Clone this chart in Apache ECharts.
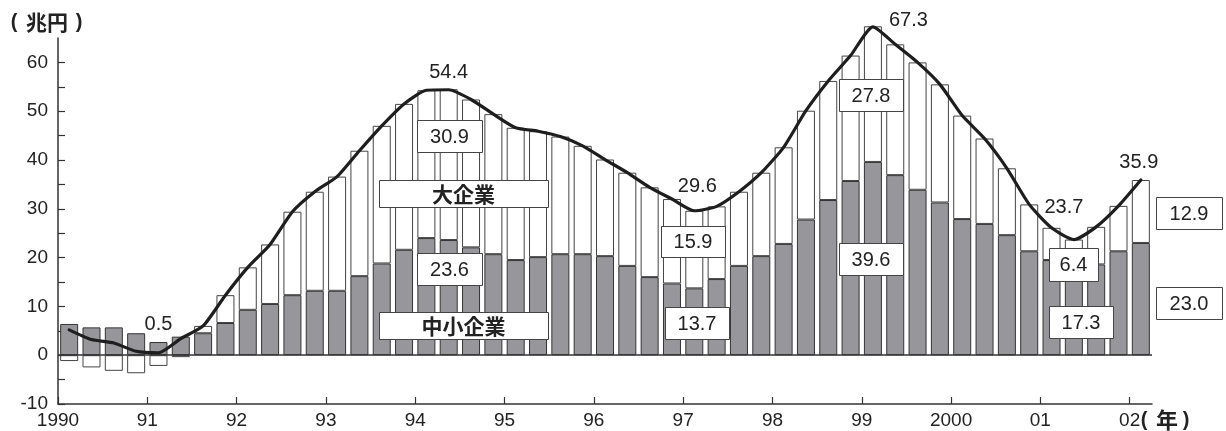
<!DOCTYPE html>
<html>
<head>
<meta charset="utf-8">
<title>経常利益の推移</title>
<script src="https://cdn.jsdelivr.net/npm/echarts@6/dist/echarts.min.js"></script>
<style>
  html, body { margin: 0; padding: 0; background: #fff; }
  #main { width: 1226px; height: 431px; }
</style>
</head>
<body>
<div id="main"></div>
<script>
// 四半期 1990年1-3月期 ～ 2002年1-3月期
var quarters = [
  "1990-1", "1990-2", "1990-3", "1990-4",
  "1991-1", "1991-2", "1991-3", "1991-4",
  "1992-1", "1992-2", "1992-3", "1992-4",
  "1993-1", "1993-2", "1993-3", "1993-4",
  "1994-1", "1994-2", "1994-3", "1994-4",
  "1995-1", "1995-2", "1995-3", "1995-4",
  "1996-1", "1996-2", "1996-3", "1996-4",
  "1997-1", "1997-2", "1997-3", "1997-4",
  "1998-1", "1998-2", "1998-3", "1998-4",
  "1999-1", "1999-2", "1999-3", "1999-4",
  "2000-1", "2000-2", "2000-3", "2000-4",
  "2001-1", "2001-2", "2001-3", "2001-4",
  "2002-1",
];

// 中小企業 (兆円)
var small = [
  6.4, 5.7, 5.7, 4.5,
  2.7, 3.8, 4.5, 6.6,
  9.3, 10.5, 12.3, 13.2,
  13.2, 16.2, 18.8, 21.6,
  24.0, 23.6, 22.1, 20.7,
  19.5, 20.1, 20.7, 20.7,
  20.3, 18.3, 16.0, 14.7,
  13.7, 15.6, 18.3, 20.3,
  22.8, 27.8, 31.8, 35.7,
  39.6, 36.9, 33.9, 31.3,
  27.9, 26.9, 24.6, 21.3,
  19.5, 17.3, 18.6, 21.3,
  23.0,
];

// 大企業 (兆円)
var large = [
  -1.2, -2.5, -3.2, -3.7,
  -2.2, -0.4, 1.5, 5.7,
  8.7, 12.2, 17.1, 20.3,
  23.4, 25.7, 28.2, 29.9,
  30.3, 30.9, 30.3, 28.7,
  27.1, 25.8, 24.1, 22.2,
  19.8, 19.1, 18.4, 17.3,
  15.9, 14.9, 15.2, 17.1,
  19.8, 22.3, 24.4, 25.7,
  27.8, 26.8, 26.1, 24.2,
  21.2, 17.5, 13.7, 9.6,
  6.6, 6.4, 7.7, 9.3,
  12.9,
];

// 合計 (折れ線)
var total = [
  5.2, 3.2, 2.5, 0.8,
  0.5, 3.4, 6.0, 12.3,
  18.0, 22.7, 29.4, 33.5,
  36.6, 41.9, 47.0, 51.5,
  54.3, 54.4, 52.4, 49.4,
  46.6, 45.9, 44.8, 42.9,
  40.1, 37.4, 34.4, 32.0,
  29.6, 30.5, 33.5, 37.4,
  42.6, 50.1, 56.2, 61.4,
  67.3, 63.7, 60.0, 55.5,
  49.1, 44.4, 38.3, 30.9,
  26.1, 23.7, 26.3, 30.6,
  35.9,
];

var yearTicks = [1990, 1991, 1992, 1993, 1994, 1995, 1996, 1997, 1998, 1999, 2000, 2001, 2002];
var yearLabels = ["1990", "91", "92", "93", "94", "95", "96", "97", "98", "99", "2000", "01", "02"];
var yTicks = [-10, -5, 0, 5, 10, 15, 20, 25, 30, 35, 40, 45, 50, 55, 60];
var yLabels = [-10, 0, 10, 20, 30, 40, 50, 60];

var numFont = '"Liberation Sans", Arial, sans-serif';
var cjkFont = '"Noto Sans CJK JP", sans-serif';

// 折れ線の数値ラベル
var lineLabels = {
  4: { distance: 18, offset: [0, 0] },
  17: { distance: 7, offset: [0, 0] },
  28: { distance: 14, offset: [3, 0] },
  36: { position: "right", distance: 16, offset: [0, -6] },
  45: { distance: 22, offset: [-10, 0] },
  48: { distance: 8, offset: [-2, 0] },
};

function box(cx, cy, w, h, text, font) {
  return {
    type: "group",
    x: cx - w / 2,
    y: cy - h / 2,
    children: [
      {
        type: "rect",
        z: 100,
        shape: { x: 0.5, y: 0.5, width: w, height: h },
        style: { fill: "#fff", stroke: "#444", lineWidth: 1 },
      },
      {
        type: "text",
        z: 101,
        style: {
          x: w / 2,
          y: h / 2 + 1,
          text: text,
          align: "center",
          verticalAlign: "middle",
          textAlign: "center",
          textVerticalAlign: "middle",
          fill: "#222",
          font: font,
        },
      },
    ],
  };
}

// 中央揃えの文字
function label(cx, cy, text, font) {
  return {
    type: "text",
    z: 101,
    style: {
      x: cx,
      y: cy,
      text: text,
      align: "center",
      verticalAlign: "middle",
      textAlign: "center",
      textVerticalAlign: "middle",
      fill: "#222",
      font: font,
    },
  };
}

var boxNum = "20px " + numFont;
var boxCjk = "bold 21px " + cjkFont;
var parenFont = "bold 20px " + numFont;

var chart = echarts.init(document.getElementById("main"));

var option = {
  backgroundColor: "#fff",
  animation: false,
  grid: {
    left: 58,
    right: 74,
    top: 38,
    bottom: 27,
    containLabel: false,
    outerBoundsMode: "none",
  },
  xAxis: [
    {
      // 棒と折れ線用 (非表示)
      type: "category",
      data: quarters,
      boundaryGap: true,
      position: "bottom",
      show: false,
    },
    {
      // 年の目盛り
      type: "value",
      min: 1990,
      max: 2002.25,
      position: "bottom",
      splitLine: { show: false },
      axisLine: { onZero: false, lineStyle: { color: "#333", width: 1.5 } },
      axisTick: {
        inside: true,
        length: 7,
        customValues: yearTicks,
        lineStyle: { color: "#333", width: 1.2 },
      },
      axisLabel: {
        customValues: yearTicks,
        margin: 7,
        color: "#222",
        fontSize: 19,
        fontFamily: numFont,
        formatter: function (v) {
          return yearLabels[yearTicks.indexOf(Math.round(v))] || "";
        },
      },
    },
  ],
  yAxis: {
    type: "value",
    min: -10,
    max: 65,
    splitLine: { show: false },
    axisLine: { show: true, onZero: false, lineStyle: { color: "#333", width: 1.5 } },
    axisTick: {
      show: true,
      inside: true,
      length: 7,
      customValues: yTicks,
      lineStyle: { color: "#333", width: 1.2 },
    },
    axisLabel: {
      customValues: yLabels,
      margin: 10,
      color: "#222",
      fontSize: 19,
      fontFamily: numFont,
    },
  },
  series: [
    {
      name: "中小企業",
      type: "bar",
      stack: "all",
      barWidth: 18,
      clip: false,
      itemStyle: { color: "#97979b", borderColor: "#333", borderWidth: 1 },
      data: small,
    },
    {
      name: "大企業",
      type: "bar",
      stack: "all",
      barWidth: 18,
      clip: false,
      itemStyle: { color: "#fff", borderColor: "#444", borderWidth: 1 },
      data: large,
    },
    {
      name: "合計",
      type: "line",
      z: 5,
      clip: false,
      smooth: 0.2,
      symbol: "circle",
      symbolSize: 0,
      showSymbol: true,
      showAllSymbol: true,
      lineStyle: { color: "#1e1e1e", width: 3.2, join: "round", cap: "round" },
      itemStyle: { color: "#1e1e1e" },
      label: { show: false },
      data: total.map(function (v, i) {
        var item = { value: v };
        var l = lineLabels[i];
        if (l) {
          item.label = {
            show: true,
            position: l.position || "top",
            distance: l.distance,
            offset: l.offset,
            color: "#222",
            fontSize: 20,
            fontFamily: numFont,
            formatter: function (p) {
              return p.value.toFixed(1);
            },
          };
        }
        return item;
      }),
      markLine: {
        silent: true,
        symbol: "none",
        label: { show: false },
        lineStyle: { color: "#333", width: 1.5, type: "solid" },
        data: [{ yAxis: 0 }],
      },
    },
  ],
  graphic: [
    // 単位
    label(14, 22, "(", parenFont),
    label(47, 22, "兆円", "bold 21px " + cjkFont),
    label(79, 22, ")", parenFont),
    label(1144, 420, "(", parenFont),
    label(1167, 420, "年", "bold 22px " + cjkFont),
    label(1186, 420, ")", parenFont),
    // 注記
    box(449.5, 136, 65, 32, large[17].toFixed(1), boxNum),
    box(463.5, 193.5, 169, 27, "大企業", boxCjk),
    box(449.5, 269, 65, 32, small[17].toFixed(1), boxNum),
    box(463.5, 325.5, 169, 27, "中小企業", boxCjk),
    box(693, 241.5, 64, 31, large[28].toFixed(1), boxNum),
    box(697, 323, 64, 32, small[28].toFixed(1), boxNum),
    box(871, 95, 64, 32, large[36].toFixed(1), boxNum),
    box(871, 259, 64, 32, small[36].toFixed(1), boxNum),
    box(1073.5, 264.5, 49, 33, large[45].toFixed(1), boxNum),
    box(1081, 322, 64, 32, small[45].toFixed(1), boxNum),
    box(1189, 213, 66, 32, large[48].toFixed(1), boxNum),
    box(1189, 303, 66, 32, small[48].toFixed(1), boxNum),
  ],
};

chart.setOption(option);
</script>
</body>
</html>
